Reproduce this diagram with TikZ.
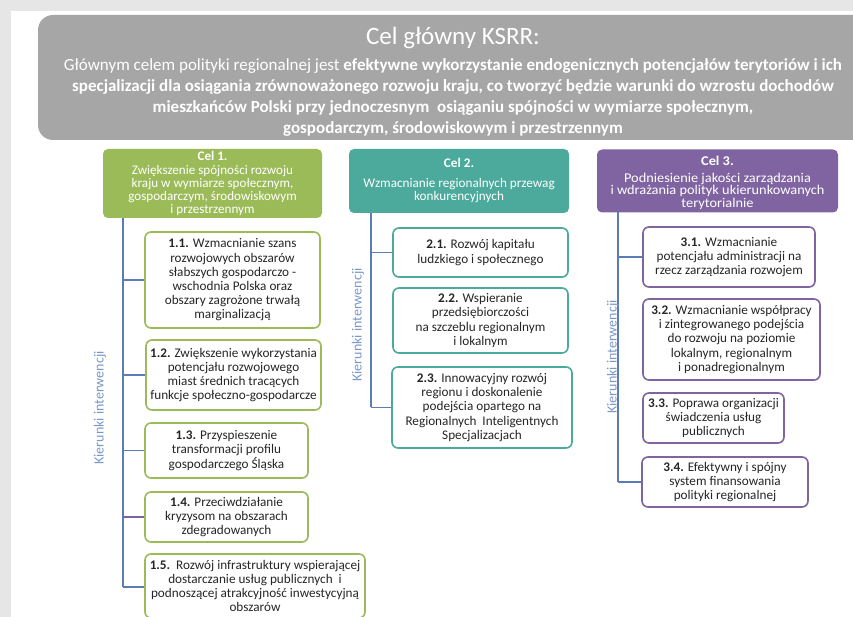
\documentclass[tikz,border=0pt]{standalone}
\usepackage{fontspec}
\setmainfont{Carlito}
\newfontfamily\celwide[FakeStretch=1.07]{Carlito}
\definecolor{bglight}{HTML}{E6E6E6}
\definecolor{hdrgray}{HTML}{A6A6A6}
\definecolor{celgreen}{HTML}{9BBB59}
\definecolor{celteal}{HTML}{4BAA9C}
\definecolor{celpurple}{HTML}{8064A2}
\definecolor{linblue}{HTML}{5B7CB6}
\definecolor{labblue}{HTML}{7B98C9}
\definecolor{txtdark}{HTML}{262626}
\definecolor{branchpurple}{HTML}{7D62A3}
\begin{document}
\begin{tikzpicture}[x=1pt,y=-1pt,
  hdrline/.style={text=white, inner sep=0pt, font=\fontsize{17}{20}\selectfont},
  cel/.style={rounded corners=5pt, text=white, align=center, inner sep=0pt, font=\fontsize{13.2}{13.5}\selectfont},
  kbox/.style={draw, line width=1.6pt, fill=white, rounded corners=6pt, align=center, inner sep=0pt, text=txtdark, font=\fontsize{13.2}{14.2}\selectfont},
  vline/.style={draw=linblue, line width=1.6pt},
  vlab/.style={rotate=90, text=labblue, inner sep=0pt, font=\fontsize{14}{16}\selectfont}
]
\clip (0,0) rectangle (853,617);
\fill[bglight] (0,0) rectangle (853,617);
\fill[white] (11,11) rectangle (853,617);
% header
\fill[hdrgray, rounded corners=15pt] (38,15) rectangle (900,140);
\node[text=white, inner sep=0pt, font=\fontsize{25}{28}\selectfont] (title) at (453,38) {Cel główny KSRR:};
\node[hdrline] (h1) at (453,66) {Głównym celem polityki regionalnej jest \textbf{efektywne wykorzystanie endogenicznych potencjałów terytoriów i ich}};
\node[hdrline] (h2) at (453,87) {\textbf{specjalizacji dla osiągania zrównoważonego rozwoju kraju, co tworzyć będzie warunki do wzrostu dochodów}};
\node[hdrline] (h3) at (453,108) {\textbf{mieszkańców Polski przy jednoczesnym\ \ osiąganiu spójności w wymiarze społecznym,}};
\node[hdrline] (h4) at (453,129) {\textbf{gospodarczym, środowiskowym i przestrzennym}};

% column headers
\node[cel, fill=celgreen, minimum width=219pt, minimum height=69pt] (c1) at (212.5,183.5) {};
\node[text=white, align=center, inner sep=0pt, font=\fontsize{13.1}{13.2}\selectfont, anchor=north] (c1t) at (212.5,151.5) {\textbf{Cel 1.}\\Zwiększenie spójności rozwoju\\kraju w wymiarze społecznym,\\gospodarczym, środowiskowym\\i przestrzennym};
\node[cel, fill=celteal, minimum width=220pt, minimum height=64pt] (c2) at (459,181) {\textbf{Cel 2.}\\[6pt]Wzmacnianie regionalnych przewag\\konkurencyjnych};
\node[cel, fill=celpurple, minimum width=241pt, minimum height=63pt] (c3) at (717.5,181) {};
\node[text=white, align=center, inner sep=0pt, font=\celwide\fontsize{13.4}{12.6}\selectfont] (c3t) at (717.5,183) {\textbf{Cel 3.}\\[3.5pt]Podniesienie jakości zarządzania\\i wdrażania polityk ukierunkowanych\\terytorialnie};

% column 1
\coordinate (l1top) at (123,218);
\coordinate (l1bot) at (123,587);
\draw[vline] (l1top) -- (l1bot);
\node[kbox, draw=celgreen, minimum width=175pt, minimum height=96pt] (b11) at (232.5,280) {\textbf{1.1.} Wzmacnianie szans\\rozwojowych obszarów\\słabszych gospodarczo -\\wschodnia Polska oraz\\obszary zagrożone trwałą\\marginalizacją};
\node[kbox, draw=celgreen, minimum width=175pt, minimum height=70pt] (b12) at (233.5,375) {\textbf{1.2.} Zwiększenie wykorzystania\\potencjału rozwojowego\\miast średnich tracących\\funkcje społeczno-gospodarcze};
\node[kbox, draw=celgreen, minimum width=163pt, minimum height=55pt] (b13) at (226.5,450.5) {\textbf{1.3.} Przyspieszenie\\transformacji profilu\\gospodarczego Śląska};
\node[kbox, draw=celgreen, minimum width=163pt, minimum height=50pt] (b14) at (226.5,517) {\textbf{1.4.} Przeciwdziałanie\\kryzysom na obszarach\\zdegradowanych};
\node[kbox, draw=celgreen, minimum width=220pt, minimum height=64pt] (b15) at (255,586) {\textbf{1.5.}\ \ Rozwój infrastruktury wspierającej\\dostarczanie usług publicznych\ \ i\\podnoszącej atrakcyjność inwestycyjną\\obszarów};
\draw[vline] (b11.west) -- (b11.west -| l1top);
\draw[vline] (b12.west) -- (b12.west -| l1top);
\draw[vline] (b13.west) -- (b13.west -| l1top);
\draw[vline, draw=branchpurple] (b14.west) -- (b14.west -| l1top);
\draw[vline] (b15.west |- l1bot) -- (l1bot);
\node[vlab] (k1) at (100,408) {Kierunki interwencji};

% column 2
\coordinate (l2top) at (371,213);
\coordinate (l2bot) at (371,407);
\draw[vline] (l2top) -- (l2bot);
\node[kbox, draw=celteal, minimum width=175pt, minimum height=49pt] (b21) at (480.5,252.5) {\textbf{2.1.} Rozwój kapitału\\ludzkiego i społecznego};
\node[kbox, draw=celteal, minimum width=175pt, minimum height=65pt] (b22) at (480.5,320.5) {\textbf{2.2.} Wspieranie\\przedsiębiorczości\\na szczeblu regionalnym\\i lokalnym};
\node[kbox, draw=celteal, minimum width=180pt, minimum height=81pt] (b23) at (482,407.5) {\textbf{2.3.} Innowacyjny rozwój\\regionu i doskonalenie\\podejścia opartego na\\Regionalnych\ \ Inteligentnych\\Specjalizacjach};
\draw[vline] (b21.west) -- (b21.west -| l2top);
\draw[vline] (b23.west) -- (b23.west -| l2top);
\node[vlab] (k2) at (358,325) {Kierunki interwencji};

% column 3
\coordinate (l3top) at (618,212);
\coordinate (l3bot) at (618,482);
\draw[vline] (l3top) -- (l3bot);
\node[kbox, draw=celpurple, minimum width=172pt, minimum height=60pt] (b31) at (729,257) {\textbf{3.1.} Wzmacnianie\\potencjału administracji na\\rzecz zarządzania rozwojem};
\node[kbox, draw=celpurple, minimum width=177pt, minimum height=81pt] (b32) at (731.5,339.5) {\textbf{3.2.} Wzmacnianie współpracy\\i zintegrowanego podejścia\\do rozwoju na poziomie\\lokalnym, regionalnym\\i ponadregionalnym};
\node[kbox, draw=celpurple, minimum width=141pt, minimum height=50pt] (b33) at (713.5,418) {\textbf{3.3.} Poprawa organizacji\\świadczenia usług\\publicznych};
\node[kbox, draw=celpurple, minimum width=166pt, minimum height=50pt] (b34) at (725,482) {\textbf{3.4.} Efektywny i spójny\\system finansowania\\polityki regionalnej};
\draw[vline] (b31.west) -- (b31.west -| l3top);
\draw[vline] (b34.west) -- (b34.west -| l3top);
\node[vlab] (k3) at (613,357) {Kierunki interwencji};
\end{tikzpicture}
\end{document}
